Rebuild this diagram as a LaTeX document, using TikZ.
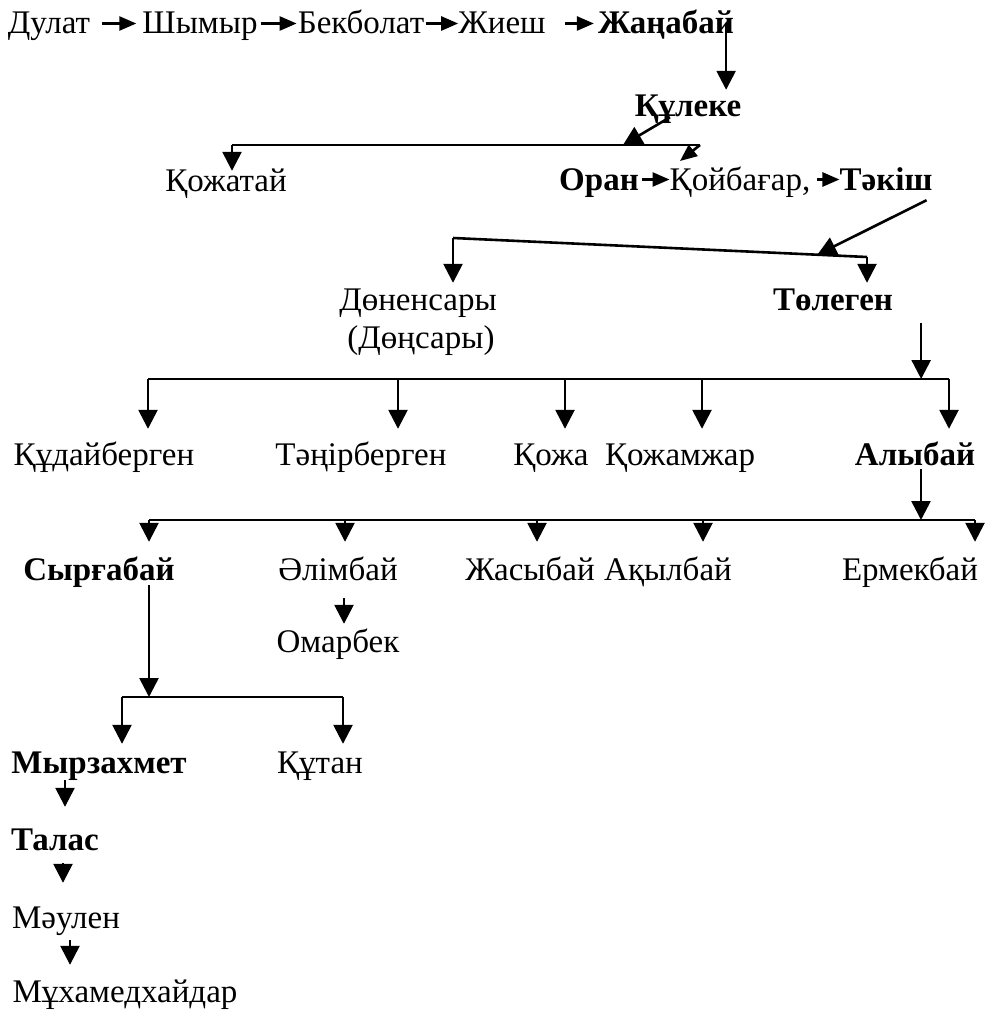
\documentclass[tikz,border=0pt]{standalone}
\usepackage{fontspec}
\setmainfont{Liberation Serif}
\usetikzlibrary{arrows.meta,calc}

\begin{document}
\begin{tikzpicture}[x=1pt,y=-1pt,>={Triangle[width=19pt,length=19pt]},
  person/.style={inner sep=0pt,text height=21pt,text depth=0pt,anchor=base,font=\fontsize{33}{39}\selectfont},
  bperson/.style={person,font=\fontsize{33}{39}\selectfont\bfseries},
  link/.style={line width=2.6pt},
  down/.style={link,->},
  next/.style={link,-{Triangle[width=14pt,length=17pt]}}]
  \useasboundingbox (0,0) rectangle (986,1011);

  \node[person] (dulat) at (49,34) {Дулат};
  \node[person] (shymyr) at (200,34) {Шымыр};
  \node[person] (bekbolat) at (361,34) {Бекболат};
  \node[person] (zhiesh) at (502,34) {Жиеш};
  \node[bperson] (zhanabai) at (666,34) {Жаңабай};
  \node[bperson] (kuleke) at (688,117) {Құлеке};
  \node[person] (kozhatai) at (226,192) {Қожатай};
  \node[bperson] (oran) at (599,190) {Оран};
  \node[person] (koibagar) at (740,190) {Қойбағар,};
  \node[bperson] (takish) at (886,190) {Тәкіш};
  \node[person] (donensary) at (418,310) {Дөненсары};
  \node[person] (donsary) at (421,348) {(Дөңсары)};
  \node[bperson] (tolegen) at (833,310) {Төлеген};
  \node[person] (kudai) at (104,465) {Құдайберген};
  \node[person] (taniri) at (361,465) {Тәңірберген};
  \node[person] (kozha) at (551,465) {Қожа};
  \node[person] (kozhamzhar) at (680,465) {Қожамжар};
  \node[bperson] (alybai) at (915,465) {Алыбай};
  \node[bperson] (syrgabai) at (99,580) {Сырғабай};
  \node[person] (alimbai) at (338,580) {Әлімбай};
  \node[person] (zhasybai) at (530,580) {Жасыбай};
  \node[person] (akylbai) at (668,580) {Ақылбай};
  \node[person] (ermekbai) at (910,580) {Ермекбай};
  \node[person] (omarbek) at (338,652) {Омарбек};
  \node[bperson] (myrza) at (99,773) {Мырзахмет};
  \node[person] (kutan) at (320,773) {Құтан};
  \node[bperson] (talas) at (55,850) {Талас};
  \node[person] (maulen) at (66,928) {Мәулен};
  \node[person] (mukhamed) at (125,1002) {Мұхамедхайдар};

  \draw[next,shorten <=12pt,shorten >=6pt] (dulat) -- (shymyr);
  \draw[next,shorten <=3pt,shorten >=1pt] (shymyr) -- (bekbolat);
  \draw[next,shorten <=2pt] (bekbolat) -- (zhiesh);
  \draw[next,shorten <=19pt,shorten >=4pt] (zhiesh) -- (zhanabai);
  \draw[next,shorten <=3pt,shorten >=0pt] (oran) -- (koibagar);
  \draw[next,shorten <=7pt,shorten >=0pt] (koibagar) -- (takish);

  \coordinate (k1) at (232,145);
  \coordinate (k2) at (700,145);
  \coordinate (k3) at (623,145);
  \coordinate (k4) at (680,161);
  \draw[down,shorten >=6pt] ([xshift=-8pt]zhanabai.east) -- ([xshift=-8pt]zhanabai.east |- kuleke.north);
  \draw[down] ([xshift=-18pt]kuleke.south) -- (k3);
  \draw[link] (k1) -- (k2);
  \draw[down] (k1) -- (k1 |- kozhatai.north);
  \draw[next] (k2) -- (k4);

  \coordinate (d1) at (453,238);
  \coordinate (d2) at (867,257);
  \draw[down] ([shift={(-6pt,-10pt)}]takish.south east) -- ($(d1)!0.88!(d2)$);
  \draw[link] (d1) -- (d2);
  \draw[down,shorten >=6pt] (d1) -- (d1 |- donensary.north);
  \draw[down,shorten >=6pt] (d2) -- (d2 |- tolegen.north);

  \coordinate (t1) at (148,379);
  \coordinate (t2) at (949,379);
  \coordinate (t0) at ([shift={(28pt,-13pt)}]tolegen.south east);
  \draw[down] (t0) -- (t0 |- t1);
  \draw[link] (t1) -- (t2);
  \foreach \x/\n in {148/kudai,398/taniri,565/kozha,702/kozhamzhar,949/alybai}{
    \coordinate (\n-top) at (\x,379);
    \draw[down,shorten >=15pt] (\n-top) -- (\n-top |- \n.north);
  }

  \coordinate (a1) at (149,520);
  \coordinate (a2) at (975,520);
  \coordinate (a0) at ([shift={(6pt,-4pt)}]alybai.south);
  \draw[down] (a0) -- (a0 |- a1);
  \draw[link] (a1) -- (a2);
  \foreach \x/\n in {149/syrgabai,345/alimbai,537/zhasybai,703/akylbai,975/ermekbai}{
    \coordinate (\n-top) at (\x,520);
    \draw[down,shorten >=17pt] (\n-top) -- (\n-top |- \n.north);
  }

  \coordinate (s1) at (122,697);
  \coordinate (s2) at (343,697);
  \coordinate (s0) at (149,585);
  \draw[down] (s0) -- (s0 |- s1);
  \draw[link] (s1) -- (s2);
  \foreach \x/\n in {122/myrza,343/kutan}{
    \coordinate (\n-top) at (\x,697);
    \draw[down,shorten >=8pt] (\n-top) -- (\n-top |- \n.north);
  }

  \draw[down,shorten >=7pt] ([shift={(6pt,-18pt)}]alimbai.south) -- ([xshift=6pt]omarbek.north);
  \draw[down,shorten >=22pt] ([shift={(-34pt,-7pt)}]myrza.south) -- ([xshift=10pt]talas.north);
  \draw[down,shorten >=24pt] ([shift={(8pt,-13pt)}]talas.south) -- ([xshift=-3pt]maulen.north);
  \draw[down,shorten >=16pt] ([shift={(4pt,-12pt)}]maulen.south) -- ([xshift=-55pt]mukhamed.north);
\end{tikzpicture}
\end{document}
